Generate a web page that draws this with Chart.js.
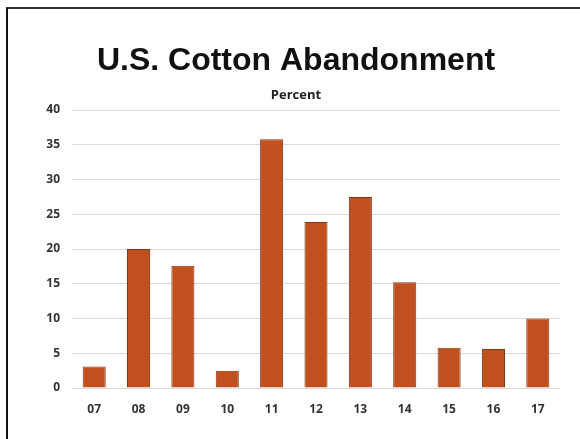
<!DOCTYPE html>
<html>
<head>
<meta charset="utf-8">
<title>U.S. Cotton Abandonment</title>
<script src="https://cdn.jsdelivr.net/npm/chart.js@4/dist/chart.umd.min.js"></script>
<style>
  html, body { margin: 0; padding: 0; background: #fff; }
  #wrap { position: relative; width: 580px; height: 439px; overflow: hidden; }
  #frame {
    position: absolute; left: 6px; top: 7px; width: 600px; height: 460px;
    border-left: 2px solid #111; border-top: 2px solid #333;
  }
  canvas { position: absolute; left: 0; top: 0; }
</style>
</head>
<body>
<div id="wrap">
  <div id="frame"></div>
  <canvas id="chart-abandono" width="580" height="439"></canvas>
</div>
<script>
const years   = ['07', '08', '09', '10', '11', '12', '13', '14', '15', '16', '17'];
const percent = [3.1, 20, 17.6, 2.5, 35.8, 23.9, 27.5, 15.2, 5.8, 5.6, 10];
const yTicks  = [0, 5, 10, 15, 20, 25, 30, 35, 40];

const tickFont = { family: 'Open Sans', size: 12, weight: 'bold' };

const ctx = document.getElementById('chart-abandono').getContext('2d');
new Chart(ctx, {
  type: 'bar',
  data: {
    labels: years,
    datasets: [{
      data: percent,
      backgroundColor: '#C0501F',
      borderColor: '#8A3414',
      borderWidth: 1,
      barPercentage: 0.52,
      categoryPercentage: 1
    }]
  },
  options: {
    responsive: false,
    animation: false,
    layout: { padding: { left: 32, right: 20, top: 0, bottom: 0 } },
    plugins: {
      legend: { display: false },
      tooltip: { enabled: false },
      title: {
        display: true,
        text: 'U.S. Cotton Abandonment',
        color: '#111',
        font: { family: 'Liberation Sans', size: 32, weight: 'bold' },
        padding: { top: 42, bottom: 0 }
      },
      subtitle: {
        display: true,
        text: 'Percent',
        color: '#222',
        font: { family: 'Open Sans', size: 13, weight: 'bold' },
        padding: { top: 7, bottom: 7 }
      }
    },
    scales: {
      x: {
        grid: { display: false },
        border: { display: false },
        ticks: { color: '#333', font: tickFont, padding: 6 },
        afterFit: s => { s.height = 51; }
      },
      y: {
        min: 0,
        max: 40,
        grid: { color: '#d9d9d9', lineWidth: 1, drawTicks: false },
        border: { display: false },
        afterBuildTicks: s => { s.ticks = yTicks.map(v => ({ value: v })); },
        ticks: { color: '#333', font: tickFont, padding: 12 },
        afterFit: s => { s.width = 40; }
      }
    }
  }
});
</script>
</body>
</html>
